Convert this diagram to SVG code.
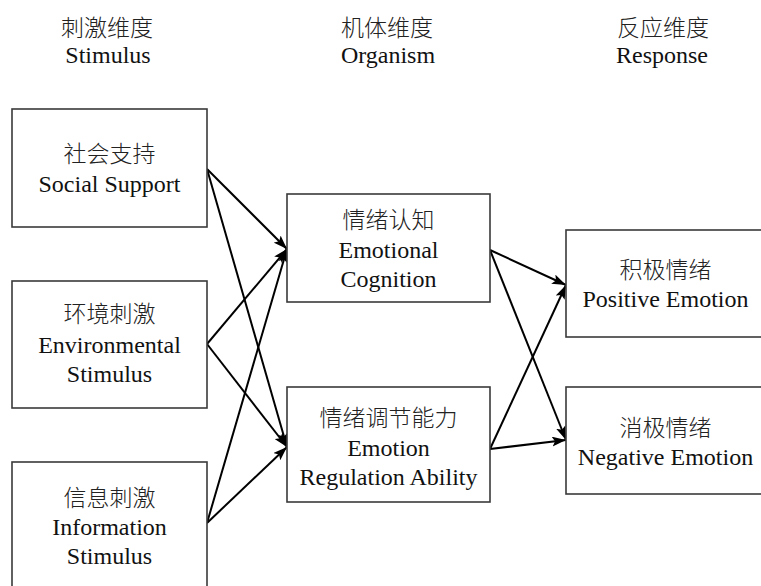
<svg xmlns="http://www.w3.org/2000/svg" width="761" height="586" viewBox="0 0 761 586">
<defs>
<style>
.box{fill:#fff;stroke:#3a3a3a;stroke-width:1.6}
.t{font-family:'Liberation Serif','Times New Roman',serif;font-size:24px;fill:#111;text-anchor:middle}
.c{font-family:'Noto Sans CJK SC','Noto Sans CJK JP',sans-serif;font-size:23px;font-weight:300;fill:#222;text-anchor:middle}
.e{stroke:#000;stroke-width:2;fill:none;marker-end:url(#ah)}
</style>
<marker id="ah" viewBox="0 0 14 10" refX="14" refY="5" markerWidth="14" markerHeight="10" markerUnits="userSpaceOnUse" orient="auto">
<path d="M0,0 L14,5 L0,10 L3,5 z" fill="#000"/>
</marker>
</defs>
<rect width="761" height="586" fill="#fff"/>
<g id="headers">
<text class="c" x="107" y="36">刺激维度</text>
<text class="t" x="108" y="63">Stimulus</text>
<text class="c" x="387" y="36">机体维度</text>
<text class="t" x="388" y="63">Organism</text>
<text class="c" x="663" y="36">反应维度</text>
<text class="t" x="662" y="63">Response</text>
</g>
<g id="connectors">
<line class="e" x1="207" y1="169" x2="287" y2="249"/>
<line class="e" x1="207" y1="169" x2="287" y2="447"/>
<line class="e" x1="207" y1="344" x2="287" y2="249"/>
<line class="e" x1="207" y1="344" x2="287" y2="447"/>
<line class="e" x1="207" y1="523" x2="287" y2="249"/>
<line class="e" x1="207" y1="523" x2="287" y2="447"/>
<line class="e" x1="490" y1="250" x2="566" y2="285"/>
<line class="e" x1="490" y1="250" x2="566" y2="440"/>
<line class="e" x1="490" y1="449" x2="566" y2="285"/>
<line class="e" x1="490" y1="449" x2="566" y2="440"/>
</g>
<g id="social">
<rect class="box" x="12" y="109" width="195" height="118"/>
<text class="c" x="109.5" y="162">社会支持</text>
<text class="t" x="109.5" y="192">Social Support</text>
</g>
<g id="environmental">
<rect class="box" x="12" y="281" width="195" height="127"/>
<text class="c" x="109.5" y="322">环境刺激</text>
<text class="t" x="109.5" y="353">Environmental</text>
<text class="t" x="109.5" y="382">Stimulus</text>
</g>
<g id="information">
<rect class="box" x="12" y="462" width="195" height="130"/>
<text class="c" x="109.5" y="506">信息刺激</text>
<text class="t" x="109.5" y="535">Information</text>
<text class="t" x="109.5" y="564">Stimulus</text>
</g>
<g id="cognition">
<rect class="box" x="287" y="194" width="203" height="108"/>
<text class="c" x="388.5" y="228">情绪认知</text>
<text class="t" x="388.5" y="258">Emotional</text>
<text class="t" x="388.5" y="287">Cognition</text>
</g>
<g id="regulation">
<rect class="box" x="287" y="387" width="203" height="115"/>
<text class="c" x="388.5" y="426">情绪调节能力</text>
<text class="t" x="388.5" y="456">Emotion</text>
<text class="t" x="388.5" y="485">Regulation Ability</text>
</g>
<g id="positive">
<rect class="box" x="566" y="230" width="199" height="107"/>
<text class="c" x="665.5" y="278">积极情绪</text>
<text class="t" x="665.5" y="307">Positive Emotion</text>
</g>
<g id="negative">
<rect class="box" x="566" y="387" width="199" height="107"/>
<text class="c" x="665.5" y="436">消极情绪</text>
<text class="t" x="665.5" y="465">Negative Emotion</text>
</g>
</svg>
